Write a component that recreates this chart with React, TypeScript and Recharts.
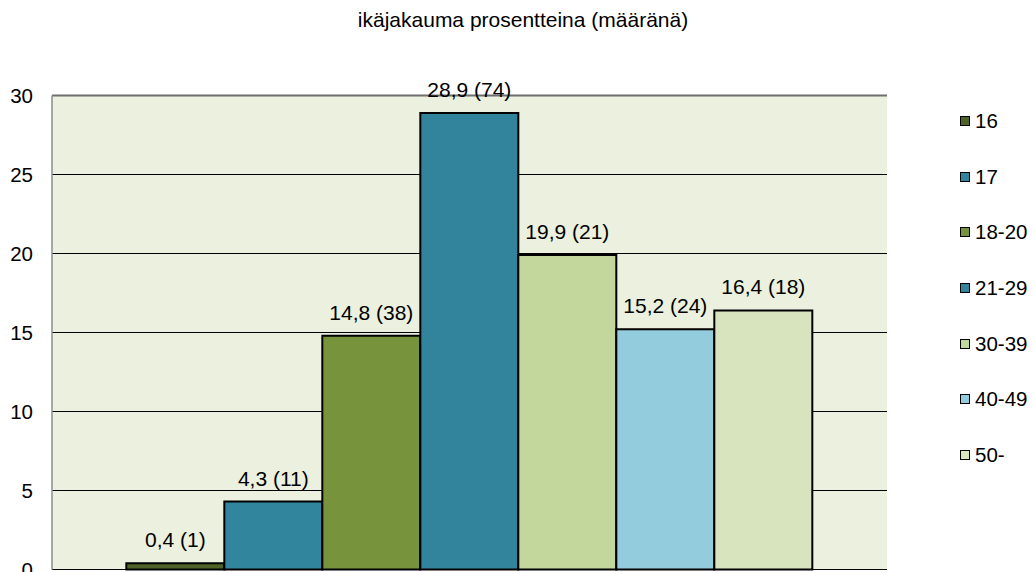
import React from 'react';
import {
  BarChart,
  Bar,
  XAxis,
  YAxis,
  CartesianGrid,
  Legend,
  LabelList,
  ReferenceLine,
} from 'recharts';

// age groups, share in percent and head count
const ageGroups = ['16', '17', '18-20', '21-29', '30-39', '40-49', '50-'];
const percents = [0.4, 4.3, 14.8, 28.9, 19.9, 15.2, 16.4];
const counts = [1, 11, 38, 74, 21, 24, 18];
const colors = ['#4F6228', '#31859C', '#77933C', '#31849B', '#C3D69B', '#93CDDD', '#D7E4BD'];
const yTicks = [0, 5, 10, 15, 20, 25, 30];

const FONT = '"Liberation Sans", Arial, sans-serif';

// single category, one series per age group
const row: Record<string, number | string> = { name: '' };
ageGroups.forEach((g, i) => {
  row['g' + i] = percents[i];
});
const data = [row];

const fmt = (v: number, i: number) => `${String(v).replace('.', ',')} (${counts[i]})`;

function LegendBox({ payload }: any) {
  return (
    <div style={{ fontFamily: FONT, fontSize: 20.5, color: '#000' }}>
      {(payload || []).map((p: any) => (
        <div key={p.value} style={{ height: 55.7, display: 'flex', alignItems: 'center' }}>
          <span
            style={{
              display: 'inline-block',
              width: 8,
              height: 8,
              background: p.color,
              border: '1.5px solid #000',
              marginRight: 5,
            }}
          />
          <span>{p.value}</span>
        </div>
      ))}
    </div>
  );
}

export default function App() {
  return (
    <div style={{ position: 'absolute', left: 0, top: 0, width: 1035, height: 572, background: '#fff', fontFamily: FONT }}>
      <div
        style={{
          position: 'absolute',
          left: 0,
          top: 8,
          width: 1046,
          textAlign: 'center',
          fontSize: 21,
          color: '#000',
        }}
      >
        ikäjakauma prosentteina (määränä)
      </div>
      <BarChart
        width={1035}
        height={572}
        data={data}
        margin={{ top: 95.5, right: 71, bottom: 2.5, left: 0 }}
        barCategoryGap="8.9%"
        barGap={0}
      >
        <CartesianGrid vertical={false} stroke="#000" fill="#EBF1DE" fillOpacity={1} />
        <XAxis dataKey="name" height={0} tick={false} tickLine={false} axisLine={{ stroke: '#7F7F7F', strokeWidth: 2 }} />
        <YAxis
          width={52}
          domain={[0, 30]}
          ticks={yTicks}
          interval={0}
          tickLine={false}
          tickSize={0}
          tickMargin={19}
          axisLine={{ stroke: '#8C8C8C', strokeWidth: 1.5 }}
          tick={{ fill: '#000', fontSize: 20.5, fontFamily: FONT }}
        />
        <ReferenceLine y={30} stroke="#6E6E6E" strokeWidth={2} />
        <Legend
          layout="vertical"
          align="right"
          verticalAlign="top"
          content={<LegendBox />}
          wrapperStyle={{ position: 'absolute', left: 960, top: 93, width: 77 }}
        />
        {ageGroups.map((g, i) => (
          <Bar
            key={g}
            dataKey={'g' + i}
            name={g}
            fill={colors[i]}
            stroke="#000"
            strokeWidth={2}
            isAnimationActive={false}
          >
            <LabelList
              dataKey={'g' + i}
              position="top"
              offset={16}
              formatter={(v: any) => fmt(v, i)}
              style={{ fill: '#000', fontSize: 21, fontFamily: FONT }}
            />
          </Bar>
        ))}
      </BarChart>
    </div>
  );
}
